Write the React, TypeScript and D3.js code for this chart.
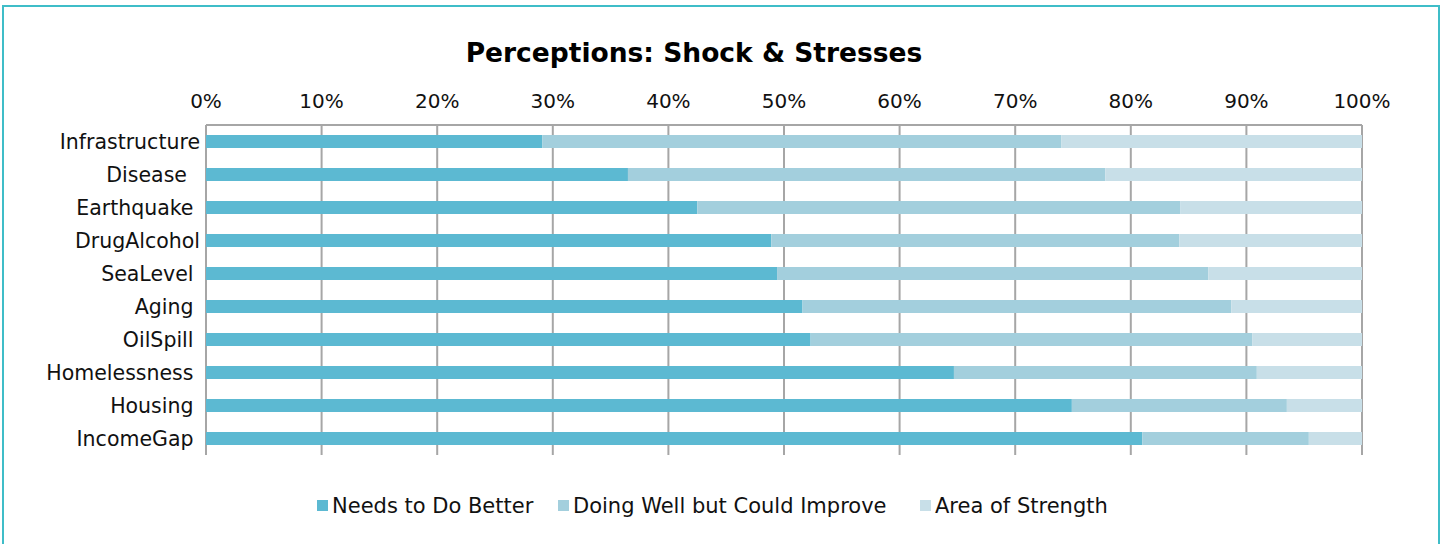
import React from "react";
import * as d3 from "d3";

const categories = ["Infrastructure", "Disease  ", "Earthquake ", "DrugAlcohol", "SeaLevel ", "Aging ", "OilSpill ", "Homelessness ", "Housing ", "IncomeGap "];
const needsBetter = [29.1, 36.5, 42.5, 48.9, 49.4, 51.6, 52.3, 64.7, 74.9, 81.0];
const doingWell = [44.9, 41.3, 41.8, 35.3, 37.3, 37.1, 38.2, 26.2, 18.6, 14.4];
const strength = [26.0, 22.2, 15.7, 15.8, 13.3, 11.3, 9.5, 9.1, 6.5, 4.6];
const seriesNames = ["Needs to Do Better", "Doing Well but Could Improve", "Area of Strength"];
const tickValues = [0, 10, 20, 30, 40, 50, 60, 70, 80, 90, 100];

const colors = ["#5cb9d2", "#a3cfdd", "#c8dfe8"];
const FONT = "'DejaVu Sans', sans-serif";

export default function App() {
  const W = 1443, H = 544;
  const left = 206, right = 1362, top = 125, bottom = 455;
  const x = d3.scaleLinear().domain([0, 100]).range([left, right]);
  const y = d3.scaleBand<string>().domain(categories).range([top, bottom]).paddingInner(0.606).paddingOuter(0.303);

  const rows = categories.map((c, i) => ({ key: c, vals: [needsBetter[i], doingWell[i], strength[i]] }));
  const stack = d3.stack<any>().keys(["0", "1", "2"]).value((d, k) => d.vals[+k]);
  const stacked = stack(rows as any);

  const legendX = [317, 558, 920];

  return (
    <svg width={W} height={H} style={{ position: "absolute", left: 0, top: 0 }} fontFamily={FONT}>
      <rect x={0} y={0} width={W} height={H} fill="#fff" />
      <rect x={3} y={6} width={1436} height={560} fill="#fff" stroke="#3fbdc8" strokeWidth={2} />
      <text x={694} y={62} textAnchor="middle" fontSize={26.5} fontWeight="bold" fill="#000">Perceptions: Shock &amp; Stresses</text>
      {tickValues.map((t) => (
        <g key={t}>
          <line x1={x(t)} x2={x(t)} y1={top} y2={bottom} stroke="#a6a6a6" strokeWidth={2} />
          <text x={x(t)} y={108} textAnchor="middle" fontSize={20} fill="#111">{t}%</text>
        </g>
      ))}
      <line x1={left} x2={right} y1={top} y2={top} stroke="#a6a6a6" strokeWidth={2} />
      {stacked.map((s, si) => (
        <g key={si} fill={colors[si]}>
          {s.map((d: any, i: number) => (
            <rect key={i} x={x(d[0])} y={y(categories[i])} width={x(d[1]) - x(d[0])} height={y.bandwidth()} />
          ))}
        </g>
      ))}
      {categories.map((c) => (
        <text key={c} x={200} y={(y(c) as number) + y.bandwidth() / 2 + 7} textAnchor="end" fontSize={20.5} fill="#111" style={{ whiteSpace: "pre" }}>{c}</text>
      ))}
      {seriesNames.map((n, i) => (
        <g key={n}>
          <rect x={legendX[i]} y={500} width={11} height={11} fill={colors[i]} />
          <text x={legendX[i] + 15} y={513} fontSize={21} fill="#111">{n}</text>
        </g>
      ))}
    </svg>
  );
}
